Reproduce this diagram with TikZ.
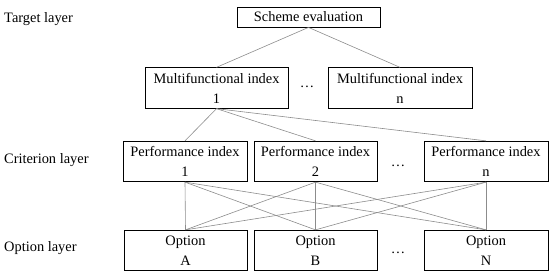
\documentclass[tikz,border=0pt]{standalone}
\usepackage{fontspec}
\setmainfont{Liberation Serif}
\begin{document}
\begin{tikzpicture}[x=1pt,y=-1pt,
  every node/.style={font=\fontsize{14.4}{20}\selectfont},
  box/.style={draw=black,line width=0.8pt,inner sep=0pt,align=center,minimum height=40.5pt},
  link/.style={draw=black!45,line width=0.6pt},
  lay/.style={anchor=west,inner sep=0pt}]
\useasboundingbox (0,0) rectangle (550,276);
\node[lay] (tl) at (4,19) {Target layer};
\node[lay] (cl) at (4,160) {Criterion layer};
\node[lay] (ol) at (4,248) {Option layer};

\node[box,minimum width=143pt,minimum height=20pt] (se) at (308.5,17) {Scheme evaluation};
\node[box,minimum width=143pt] (mf1) at (216.5,88) {Multifunctional index\\1};
\node[box,minimum width=144pt] (mfn) at (400,88) {Multifunctional index\\n};
\node (d1) at (307,87) {\ldots};

\node[box,minimum width=124pt] (pi1) at (185,161.5) {Performance index\\1};
\node[box,minimum width=123pt] (pi2) at (315.5,161.5) {Performance index\\2};
\node[box,minimum width=124pt] (pin) at (486,161.5) {Performance index\\n};
\node (d2) at (398,166) {\ldots};

\node[box,minimum width=123pt] (oa) at (185.5,250.5) {Option\\A};
\node[box,minimum width=123pt] (ob) at (315.5,250.5) {Option\\B};
\node[box,minimum width=124pt] (on) at (486,250.5) {Option\\N};
\node (d3) at (398,253) {\ldots};

\draw[link] (se.south) -- (mf1.north);
\draw[link] (se.south) -- (mfn.north);
\foreach \p in {pi1,pi2,pin} {
  \draw[link] (mf1.south) -- (\p.north);
  \foreach \o in {oa,ob,on} {
    \draw[link] (\p.south) -- (\o.north);
  }
}
\end{tikzpicture}
\end{document}
